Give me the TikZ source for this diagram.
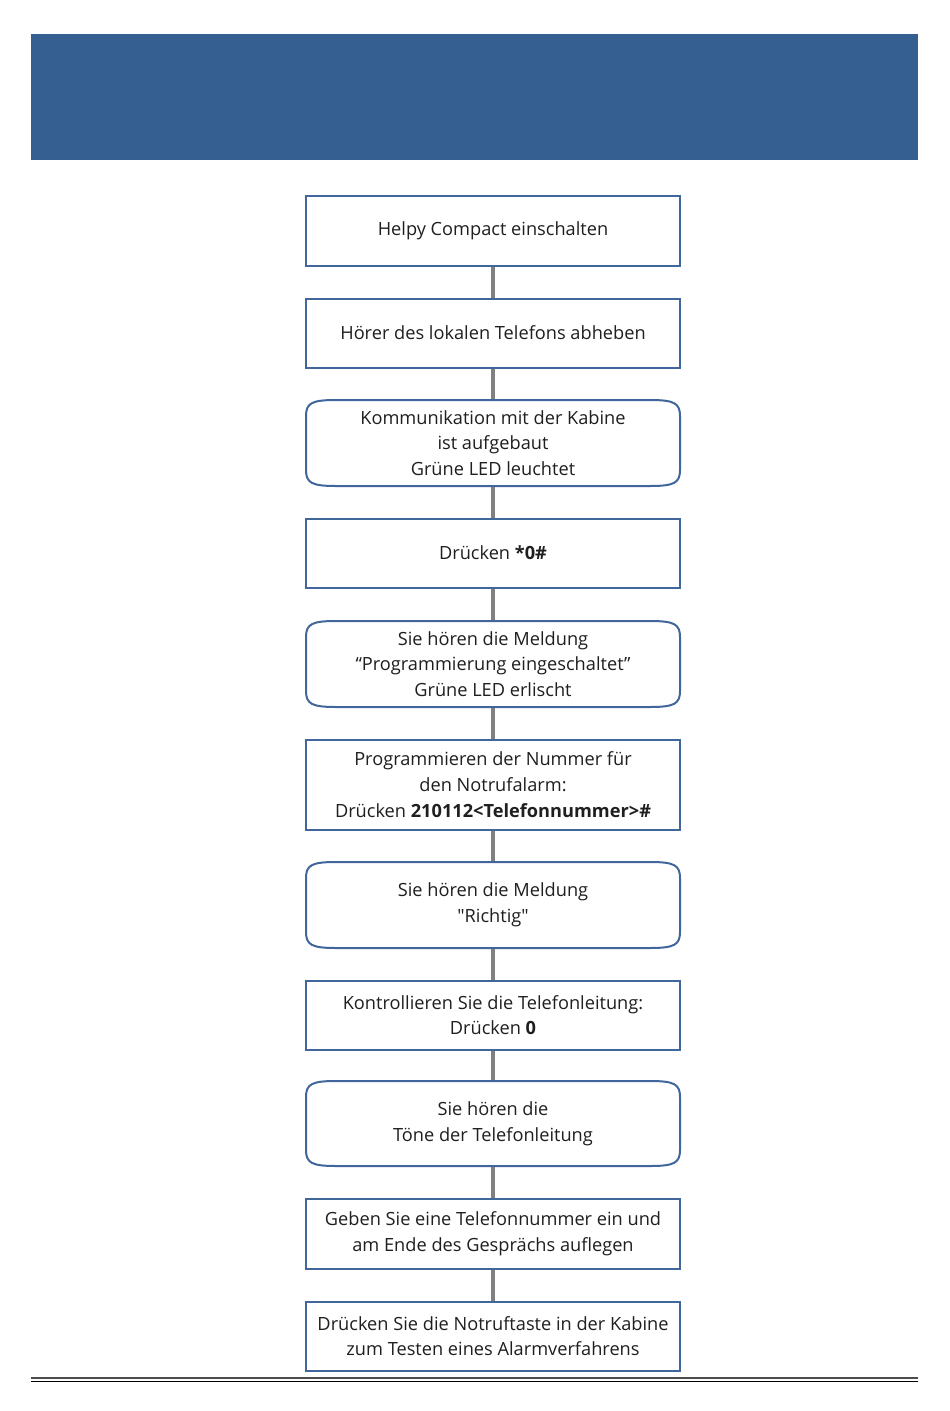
\documentclass[tikz,border=0pt]{standalone}
\usepackage{fontspec}
\setmainfont{Open Sans}
\newfontfamily\rawq{Open Sans}[Ligatures=TeXOff]
\definecolor{hdr}{RGB}{54,95,145}
\definecolor{bord}{RGB}{65,102,155}
\definecolor{conn}{RGB}{128,128,128}
\newcommand{\rndoutline}[1]{%
  \draw[draw=bord,line width=2pt,fill=white]
    ([yshift=-16pt]#1.north west) .. controls ([yshift=-3pt]#1.north west) and ([xshift=6pt]#1.north west) .. ([xshift=30pt]#1.north west)
    -- ([xshift=-30pt]#1.north east) .. controls ([xshift=-6pt]#1.north east) and ([yshift=-3pt]#1.north east) .. ([yshift=-16pt]#1.north east)
    -- ([yshift=16pt]#1.south east) .. controls ([yshift=3pt]#1.south east) and ([xshift=-6pt]#1.south east) .. ([xshift=-30pt]#1.south east)
    -- ([xshift=30pt]#1.south west) .. controls ([xshift=6pt]#1.south west) and ([yshift=3pt]#1.south west) .. ([yshift=16pt]#1.south west)
    -- cycle;}
\begin{document}
\begin{tikzpicture}[x=1pt,y=-1pt,
  boxbase/.style={line width=2pt,minimum width=374pt,align=center,outer sep=0pt,
    inner sep=0pt,font=\fontsize{18.2}{25.7}\selectfont,text=black!88},
  sq/.style={boxbase,draw=bord,fill=white,minimum height=#1},
  rnd/.style={boxbase,minimum height=#1},
  link/.style={draw=conn,line width=4pt}]
\useasboundingbox (0,0) rectangle (950,1411);
\fill[hdr] (31,34) rectangle (918,160);
\node[sq=70pt] (b1) at (493,231) {Helpy Compact einschalten};
\node[sq=69pt] (b2) at (493,333) {Hörer des lokalen Telefons abheben};
\node[rnd=86pt] (b3) at (493,443) {};
\node[sq=69pt] (b4) at (493,553) {Drücken \textbf{*0\#}};
\node[rnd=86pt] (b5) at (493,664) {};
\node[sq=90pt] (b6) at (493,784.5) {Programmieren der Nummer für\\den Notrufalarm:\\Drücken \textbf{210112<Telefonnummer>\#}};
\node[rnd=86pt] (b7) at (493,905) {};
\node[sq=69pt] (b8) at (493,1015) {Kontrollieren Sie die Telefonleitung:\\Drücken \textbf{0}};
\node[rnd=85pt] (b9) at (493,1123.5) {};
\node[sq=70pt] (b10) at (493,1234) {Geben Sie eine Telefonnummer ein und\\am Ende des Gesprächs auflegen};
\node[sq=69pt] (b11) at (493,1336) {Drücken Sie die Notruftaste in der Kabine\\zum Testen eines Alarmverfahrens};
\foreach \n in {b3,b5,b7,b9} {\rndoutline{\n}}
\node[boxbase] at (b3) {Kommunikation mit der Kabine\\ist aufgebaut\\Grüne LED leuchtet};
\node[boxbase] at (b5) {Sie hören die Meldung\\“Programmierung eingeschaltet”\\Grüne LED erlischt};
\node[boxbase] at (b7) {Sie hören die Meldung\\{\rawq"}Richtig{\rawq"}};
\node[boxbase] at (b9) {Sie hören die\\Töne der Telefonleitung};
\foreach \a/\b in {b1/b2,b2/b3,b3/b4,b4/b5,b5/b6,b6/b7,b7/b8,b8/b9,b9/b10,b10/b11}
  \draw[link] ([yshift=-1pt]\a.south) -- ([yshift=1pt]\b.north);
\draw[draw=black!70,line width=1.6pt] (31,1378) -- (918,1378);
\draw[draw=black,line width=1pt] (31,1381) -- (918,1381);
\end{tikzpicture}
\end{document}
